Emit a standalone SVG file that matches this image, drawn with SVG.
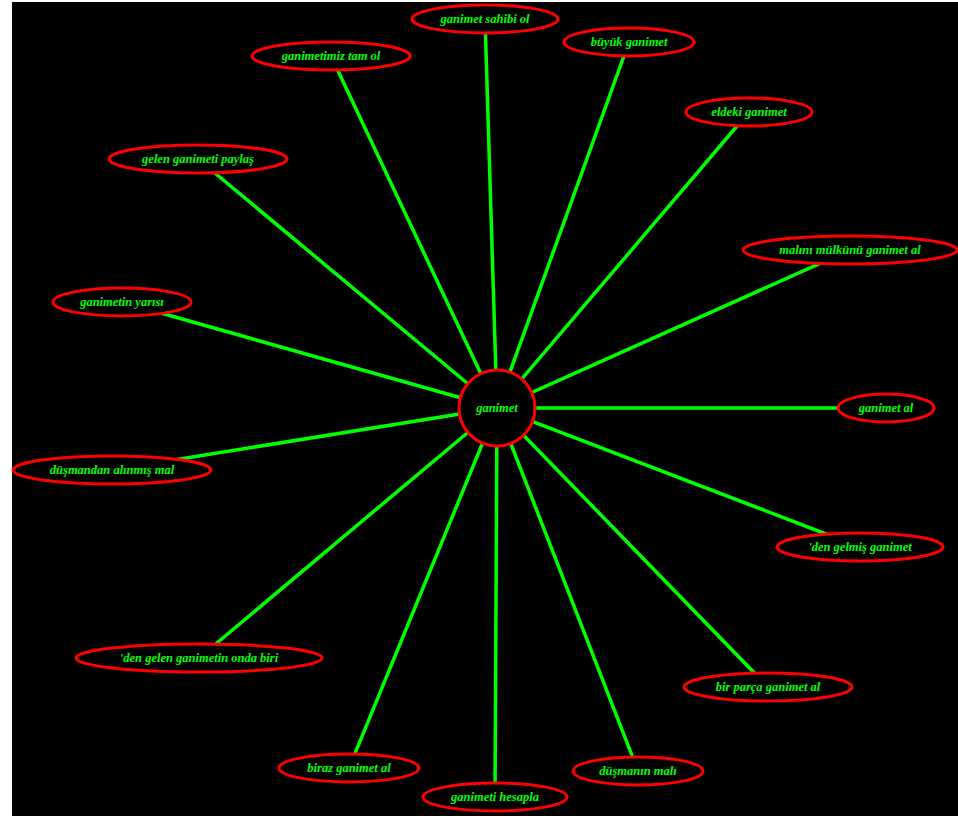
<svg xmlns="http://www.w3.org/2000/svg" width="958" height="816" viewBox="0 0 958 816">
<style>
.bg{fill:#000}
.edge{stroke:#00ff00;stroke-width:3.5;fill:none}
.node ellipse,.node circle{fill:#000;stroke:#ff0000;stroke-width:3}
.node text{fill:#00ff00;font-family:"Liberation Serif","DejaVu Serif",serif;font-size:12.5px;font-weight:bold;font-style:italic;text-anchor:middle;dominant-baseline:central}
</style>
<rect x="0" y="0" width="958" height="816" fill="#fff"/>
<rect class="bg" x="12" y="2" width="946" height="814"/>
<g id="edges">
<line class="edge" x1="497" y1="408" x2="485" y2="19"/>
<line class="edge" x1="497" y1="408" x2="629" y2="42"/>
<line class="edge" x1="497" y1="408" x2="749" y2="112"/>
<line class="edge" x1="497" y1="408" x2="331" y2="56"/>
<line class="edge" x1="497" y1="408" x2="198" y2="159"/>
<line class="edge" x1="497" y1="408" x2="122" y2="302"/>
<line class="edge" x1="497" y1="408" x2="112" y2="470"/>
<line class="edge" x1="497" y1="408" x2="199" y2="658"/>
<line class="edge" x1="497" y1="408" x2="349" y2="768"/>
<line class="edge" x1="497" y1="408" x2="495" y2="797"/>
<line class="edge" x1="497" y1="408" x2="638" y2="771"/>
<line class="edge" x1="497" y1="408" x2="768" y2="687"/>
<line class="edge" x1="497" y1="408" x2="860" y2="547"/>
<line class="edge" x1="497" y1="408" x2="886" y2="408"/>
<line class="edge" x1="497" y1="408" x2="850" y2="250"/>
</g>
<g id="n_sahibi" class="node"><ellipse cx="485" cy="19" rx="73" ry="14"/><text x="485" y="19">ganimet sahibi ol</text></g>
<g id="n_buyuk" class="node"><ellipse cx="629" cy="42" rx="65" ry="14"/><text x="629" y="42">büyük ganimet</text></g>
<g id="n_eldeki" class="node"><ellipse cx="749" cy="112" rx="63" ry="14"/><text x="749" y="112">eldeki ganimet</text></g>
<g id="n_tam" class="node"><ellipse cx="331" cy="56" rx="79" ry="14"/><text x="331" y="56">ganimetimiz tam ol</text></g>
<g id="n_paylas" class="node"><ellipse cx="198" cy="159" rx="89" ry="14"/><text x="198" y="159">gelen ganimeti paylaş</text></g>
<g id="n_yarisi" class="node"><ellipse cx="122" cy="302" rx="69" ry="14"/><text x="122" y="302">ganimetin yarısı</text></g>
<g id="n_dusmandan" class="node"><ellipse cx="112" cy="470" rx="99" ry="14"/><text x="112" y="470">düşmandan alınmış mal</text></g>
<g id="n_onda" class="node"><ellipse cx="199" cy="658" rx="123" ry="14"/><text x="199" y="658">'den gelen ganimetin onda biri</text></g>
<g id="n_biraz" class="node"><ellipse cx="349" cy="768" rx="70" ry="14"/><text x="349" y="768">biraz ganimet al</text></g>
<g id="n_hesapla" class="node"><ellipse cx="495" cy="797" rx="72" ry="14"/><text x="495" y="797">ganimeti hesapla</text></g>
<g id="n_dusmanin" class="node"><ellipse cx="638" cy="771" rx="65" ry="14"/><text x="638" y="771">düşmanın malı</text></g>
<g id="n_parca" class="node"><ellipse cx="768" cy="687" rx="84" ry="14"/><text x="768" y="687">bir parça ganimet al</text></g>
<g id="n_gelmis" class="node"><ellipse cx="860" cy="547" rx="83" ry="14"/><text x="860" y="547">'den gelmiş ganimet</text></g>
<g id="n_al" class="node"><ellipse cx="886" cy="408" rx="48" ry="14"/><text x="886" y="408">ganimet al</text></g>
<g id="n_mulkunu" class="node"><ellipse cx="850" cy="250" rx="107" ry="14"/><text x="850" y="250">malını mülkünü ganimet al</text></g>
<g id="n_ganimet" class="node"><circle cx="497" cy="408" r="38"/><text x="497" y="408">ganimet</text></g>
</svg>
